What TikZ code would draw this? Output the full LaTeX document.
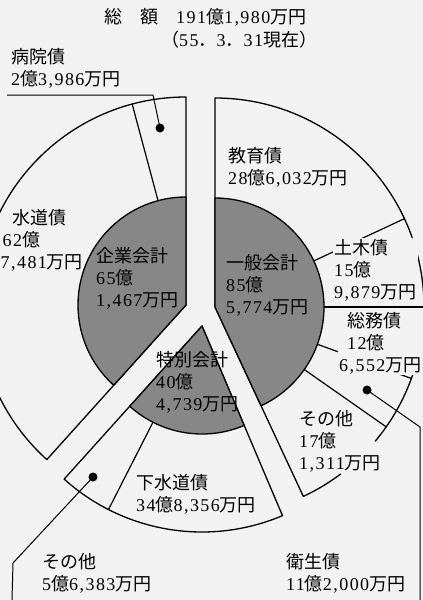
\documentclass[tikz,border=0pt]{standalone}
\usepackage{fontspec}
\setmainfont{Liberation Serif}[LetterSpace=8]
\newfontfamily\jpfont{Noto Sans CJK JP}
% kanji and kana in Noto, digits in the main font
\XeTeXinterchartokenstate=1
\newXeTeXintercharclass\jpcls
\newcount\jpcc
\jpcc="3000 \loop \XeTeXcharclass\jpcc=\jpcls \ifnum\jpcc<"30FF \advance\jpcc by 1 \repeat
\jpcc="4E00 \loop \XeTeXcharclass\jpcc=\jpcls \ifnum\jpcc<"9FFF \advance\jpcc by 1 \repeat
\jpcc="FF01 \loop \XeTeXcharclass\jpcc=\jpcls \ifnum\jpcc<"FF60 \advance\jpcc by 1 \repeat
\XeTeXinterchartoks 0 \jpcls = {\jpfont}
\XeTeXinterchartoks 4095 \jpcls = {\jpfont}
\XeTeXinterchartoks \jpcls 0 = {\rmfamily}
\XeTeXinterchartoks 4095 0 = {\rmfamily}
\usepackage{tikz}
\usetikzlibrary{calc}
\definecolor{paper}{gray}{0.95}
\definecolor{shade}{gray}{0.53}

\begin{document}
\begin{tikzpicture}[x=1pt,y=1pt]
	\tikzstyle{ring}=[line width=1.3pt, draw=black, line join=round]
	\tikzstyle{core}=[ring, fill=shade]
	\tikzstyle{cut}=[line width=1.2pt]
	\tikzstyle{txt}=[align=left, anchor=west, inner sep=0pt, font=\fontsize{18}{22}\selectfont]
	\tikzstyle{mask}=[txt, fill=paper, inner sep=1.5pt]
	\tikzstyle{dot}=[circle, fill=black, inner sep=0pt, minimum size=9pt]
	\tikzstyle{lead}=[line width=1pt]

	\useasboundingbox[fill=paper] (0,0) rectangle (423,-600);
	\clip (0,0) rectangle (423,-600);

	% centres of the three slices
	\coordinate (cL) at (186,-305);
	\coordinate (cR) at (215,-307);
	\coordinate (cB) at (202,-326);

	% left slice
	\draw[ring] (cL) -- ++(90:208) arc[start angle=90, end angle=228, radius=208] -- cycle;
	\filldraw[core] (cL) -- ++(90:108) arc[start angle=90, end angle=228, radius=108] -- cycle;
	\draw[cut] ($(cL)+(105:108)$) -- ($(cL)+(105:208)$);

	% right slice
	\draw[ring] ($(cR)+(-53:209)$) arc[start angle=-53, end angle=-65, radius=209] -- (cR)
		-- ++(90:209) arc[start angle=90, end angle=-40, radius=209];
	\filldraw[core] (cR) -- ++(90:109) arc[start angle=90, end angle=-65, radius=109] -- cycle;
	\foreach \a in {25,0,-20,-35}
		\draw[cut] ($(cR)+(\a:109)$) -- ($(cR)+(\a:209)$);

	% bottom slice
	\draw[ring] (cB) -- ++(228:206) arc[start angle=228, end angle=293, radius=206] -- cycle;
	\filldraw[core] (cB) -- ++(228:108) arc[start angle=228, end angle=293, radius=108] -- cycle;
	\draw[cut] ($(cB)+(243:108)$) -- ($(cB)+(243:206)$);

	% titles
	\node[txt] (title) at (104,-17.5) {総　額　191億1,980万円};
	\node[txt] (date) at (161,-40) {（55．3．31現在）};

	% labels
	\node[txt] (byoin) at (11,-68.5) {病院債\\2億3,986万円};
	\node[txt] (suido) at (0.5,-240.5) {\hspace*{12pt}水道債\\\hspace*{2pt}62億\\7,481万円};
	\node[txt] (kigyo) at (96,-278.5) {企業会計\\65億\\1,467万円};
	\node[txt] (ippan) at (226,-285) {一般会計\\85億\\5,774万円};
	\node[txt] (tokubetsu) at (156,-382) {特別会計\\40億\\4,739万円};
	\node[txt] (kyoiku) at (228,-167) {教育債\\28億6,032万円};
	\node[mask] (doboku) at (332.5,-270) {土木債\\15億\\9,879万円};
	\node[mask] (somu) at (337.5,-343) {\hspace*{8pt}総務債\\\hspace*{8pt}12億\\6,552万円};
	\node[txt] (sonota1) at (299,-441.5) {その他\\17億\\1,311万円};
	\node[txt] (gesui) at (136,-494) {下水道債\\34億8,356万円};
	\node[txt] (sonota2) at (42,-573) {その他\\5億6,383万円};
	\node[txt] (eisei) at (286,-573) {衛生債\\11億2,000万円};

	% dots and leaders
	\node[dot] (d1) at (160,-128) {};
	\node[dot] (d2) at (367,-390) {};
	\node[dot] (d3) at (93,-477) {};
	\coordinate (k1) at (153,-95);
	\coordinate (e1) at (7,-95);
	\coordinate (k2) at (420,-427);
	\coordinate (e2) at (420,-600);
	\coordinate (k3) at (13,-563);
	\coordinate (e3) at (12,-600);
	\draw[lead] (d1.center) -- (k1) -- (e1);
	\draw[lead] (d2.center) -- (k2) -- (e2);
	\draw[lead] (d3.center) -- (k3) -- (e3);
\end{tikzpicture}
\end{document}
